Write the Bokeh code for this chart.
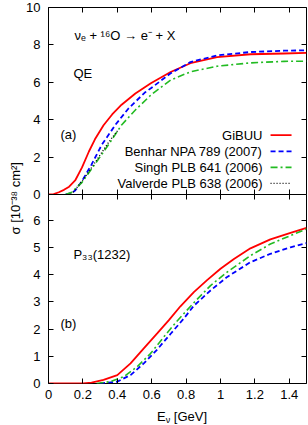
from bokeh.plotting import figure
from bokeh.models import (Range1d, LinearAxis, FixedTicker, NumeralTickFormatter,
                          CustomJSTickFormatter, Label, Title, Div, ColumnDataSource)
from bokeh.layouts import column
from bokeh.embed import file_html
from bokeh.resources import INLINE

FONT = "Liberation Sans"

# ---------------- data ----------------
x_ticks = [0, 0.2, 0.4, 0.6, 0.8, 1.0, 1.2, 1.4]
top_y_ticks = [0, 2, 4, 6, 8, 10]
bot_y_ticks = [0, 1, 2, 3, 4, 5, 6]

series_names = ["GiBUU", "Benhar NPA 789 (2007)", "Singh PLB 641 (2006)", "Valverde PLB 638 (2006)"]

# (a) QE
qe_gibuu_x = [0.0, 0.03, 0.06, 0.09, 0.12, 0.155, 0.195, 0.235, 0.27, 0.32, 0.37, 0.425, 0.505, 0.595, 0.71, 0.825, 0.98, 1.175, 1.37, 1.5]
qe_gibuu_y = [0.0, 0.02, 0.12, 0.25, 0.42, 0.75, 1.45, 2.3, 2.95, 3.7, 4.28, 4.8, 5.4, 5.95, 6.55, 7.02, 7.35, 7.5, 7.54, 7.57]

qe_benhar_x = [0.1, 0.13, 0.155, 0.195, 0.25, 0.31, 0.39, 0.465, 0.56, 0.595, 0.71, 0.825, 0.98, 1.175, 1.37, 1.5]
qe_benhar_y = [0.0, 0.06, 0.21, 0.72, 1.6, 2.66, 3.74, 4.6, 5.45, 5.68, 6.48, 7.08, 7.44, 7.62, 7.69, 7.71]

qe_singh_x = [0.1, 0.135, 0.195, 0.27, 0.35, 0.425, 0.505, 0.6, 0.71, 0.825, 0.98, 1.175, 1.37, 1.5]
qe_singh_y = [0.0, 0.12, 0.65, 1.62, 2.68, 3.72, 4.52, 5.36, 6.12, 6.56, 6.86, 7.04, 7.12, 7.13]

qe_valverde_x = [0.13, 0.155, 0.195, 0.235, 0.27, 0.31, 0.35, 0.39, 0.405]
qe_valverde_y = [0.0, 0.25, 0.72, 1.22, 1.7, 2.25, 2.8, 3.28, 3.45]

# (b) P33(1232)
d_gibuu_x = [0.0, 0.2, 0.25, 0.32, 0.4, 0.477, 0.554, 0.632, 0.70, 0.767, 0.845, 0.922, 1.0, 1.078, 1.174, 1.29, 1.407, 1.5]
d_gibuu_y = [0.0, 0.0, 0.03, 0.13, 0.31, 0.74, 1.29, 1.84, 2.33, 2.84, 3.36, 3.8, 4.22, 4.58, 4.97, 5.3, 5.54, 5.72]

d_benhar_x = [0.3, 0.4, 0.477, 0.554, 0.632, 0.709, 0.787, 0.845, 0.942, 1.039, 1.174, 1.29, 1.407, 1.5]
d_benhar_y = [0.0, 0.07, 0.31, 0.74, 1.25, 1.82, 2.39, 2.86, 3.42, 3.92, 4.46, 4.77, 5.01, 5.16]

d_singh_x = [0.28, 0.36, 0.438, 0.516, 0.593, 0.67, 0.748, 0.845, 0.942, 1.039, 1.174, 1.29, 1.407, 1.5]
d_singh_y = [0.0, 0.07, 0.25, 0.62, 1.1, 1.71, 2.3, 2.97, 3.6, 4.1, 4.7, 5.13, 5.44, 5.68]

# ---------------- styles ----------------
RED = "#ff0000"
BLUE = "#0000ff"
GREEN = "#22bb22"
BLACK = "#000000"
styles = [
    dict(line_color=RED, line_width=1.8, line_dash="solid"),
    dict(line_color=BLUE, line_width=1.8, line_dash="5 3"),
    dict(line_color=GREEN, line_width=1.6, line_dash="7 3 2 3"),
    dict(line_color=BLACK, line_width=1.3, line_dash="1 2"),
]

FIG_W = 308
TOP_BORDER = 7
TOP_FRAME_H = 187
BOT_FRAME_H = 189
TOP_EXTRA = 50      # canvas of top panel reaches below its frame (for "0" and the y title)
BOT_TOP = 7
BOT_BOTTOM = 21
TOP_H = TOP_BORDER + TOP_FRAME_H + TOP_EXTRA
BOT_H = BOT_TOP + BOT_FRAME_H + BOT_BOTTOM
DIV_H = 425 - (TOP_H + BOT_H - TOP_EXTRA - BOT_TOP)


def style_axis(ax, ticks, show, standoff):
    ax.ticker = FixedTicker(ticks=ticks)
    ax.major_tick_in = 5
    ax.major_tick_out = 0
    ax.major_tick_line_color = "black"
    ax.major_tick_line_width = 1
    ax.minor_tick_line_color = None
    ax.axis_line_color = None
    ax.major_label_text_font = FONT
    ax.major_label_text_color = "black"
    if show:
        ax.major_label_text_font_size = "13px"
        ax.major_label_standoff = standoff
    else:
        ax.formatter = CustomJSTickFormatter(code="return ''")
        ax.major_label_text_font_size = "1px"
        ax.major_label_standoff = 0


def make_fig(height, ymax, yticks, show_x, mb_top, mb_bottom):
    p = figure(width=FIG_W, height=height, x_range=Range1d(0, 1.5), y_range=Range1d(0, ymax),
               x_axis_type=None, y_axis_type=None, toolbar_location=None,
               output_backend="svg", min_border_left=48, min_border_right=2,
               min_border_top=mb_top, min_border_bottom=mb_bottom)
    p.outline_line_color = "black"
    p.outline_line_width = 1
    p.outline_line_alpha = 1
    p.background_fill_color = "white"
    for loc, show in (("left", True), ("right", False)):
        ax = LinearAxis()
        style_axis(ax, yticks, show, 8)
        p.add_layout(ax, loc)
    for loc, show in (("below", show_x), ("above", False)):
        ax = LinearAxis(formatter=NumeralTickFormatter(format="0.[0]"))
        style_axis(ax, x_ticks, show, 6)
        p.add_layout(ax, loc)
    return p


def lbl(p, text, x, y, size="13px", align="left", baseline="middle", xo=0, yo=0):
    p.add_layout(Label(x=x, y=y, text=text, text_font=FONT, text_font_size=size,
                       text_color="black", text_align=align, text_baseline=baseline,
                       x_offset=xo, y_offset=yo))


# ---------------- top panel ----------------
p1 = make_fig(TOP_H, 10, top_y_ticks, False, TOP_BORDER, TOP_EXTRA)

top_data = [(qe_gibuu_x, qe_gibuu_y), (qe_benhar_x, qe_benhar_y),
            (qe_singh_x, qe_singh_y), (qe_valverde_x, qe_valverde_y)]
for (xs, ys), st in zip(top_data, styles):
    p1.line(xs, ys, **st)

lbl(p1, "\u03bd\u2091 + \u00b9\u2076O \u2192 e\u207b + X", 0.151, 8.5, baseline="alphabetic")
lbl(p1, "QE", 0.145, 6.46)
lbl(p1, "(a)", 0.07, 3.2)

# legend (gnuplot style: right-aligned text, sample line on the right)
leg_text_x = 1.244
leg_x0, leg_x1 = 1.291, 1.413
leg_y0, leg_step = 3.17, 0.86
for i, (name, st) in enumerate(zip(series_names, styles)):
    yy = leg_y0 - i * leg_step
    lbl(p1, name, leg_text_x, yy, align="right")
    src = ColumnDataSource(dict(x0=[leg_x0], x1=[leg_x1], y=[yy]))
    p1.segment(x0="x0", y0="y", x1="x1", y1="y", source=src, **st)

# shared y-axis title, centred on the boundary between the panels
p1.add_layout(Title(text="\u03c3 [10\u207b\u00b3\u2078 cm\u00b2]", align="left", offset=-40,
                    standoff=2, text_font=FONT, text_font_size="13px",
                    text_font_style="normal", text_color="black"), "left")

# ---------------- bottom panel ----------------
p2 = make_fig(BOT_H, 6.95, bot_y_ticks, True, BOT_TOP, BOT_BOTTOM)
p2.border_fill_alpha = 0
p2.margin = (-(TOP_EXTRA + BOT_TOP), 0, 0, 0)

bot_data = [(d_gibuu_x, d_gibuu_y), (d_benhar_x, d_benhar_y), (d_singh_x, d_singh_y)]
for (xs, ys), st in zip(bot_data, styles[:3]):
    p2.line(xs, ys, **st)

lbl(p2, "P\u2083\u2083(1232)", 0.145, 4.73, baseline="alphabetic")
lbl(p2, "(b)", 0.07, 2.22)

# x-axis title
xtitle = Div(text=("<div style=\"width:258px;margin:0 0 0 48px;padding:0;text-align:center;"
                   "font-family:'Liberation Sans';font-size:13px;color:black;"
                   "line-height:14px;white-space:nowrap;\">E<span style=\"font-size:9px;"
                   "line-height:9px;display:inline-block;position:relative;top:2px;\">\u03bd</span>"
                   " [GeV]</div>"),
             width=FIG_W, height=DIV_H)

layout = column(p1, p2, xtitle, spacing=0)
open("out.html", "w").write(file_html(layout, INLINE))
